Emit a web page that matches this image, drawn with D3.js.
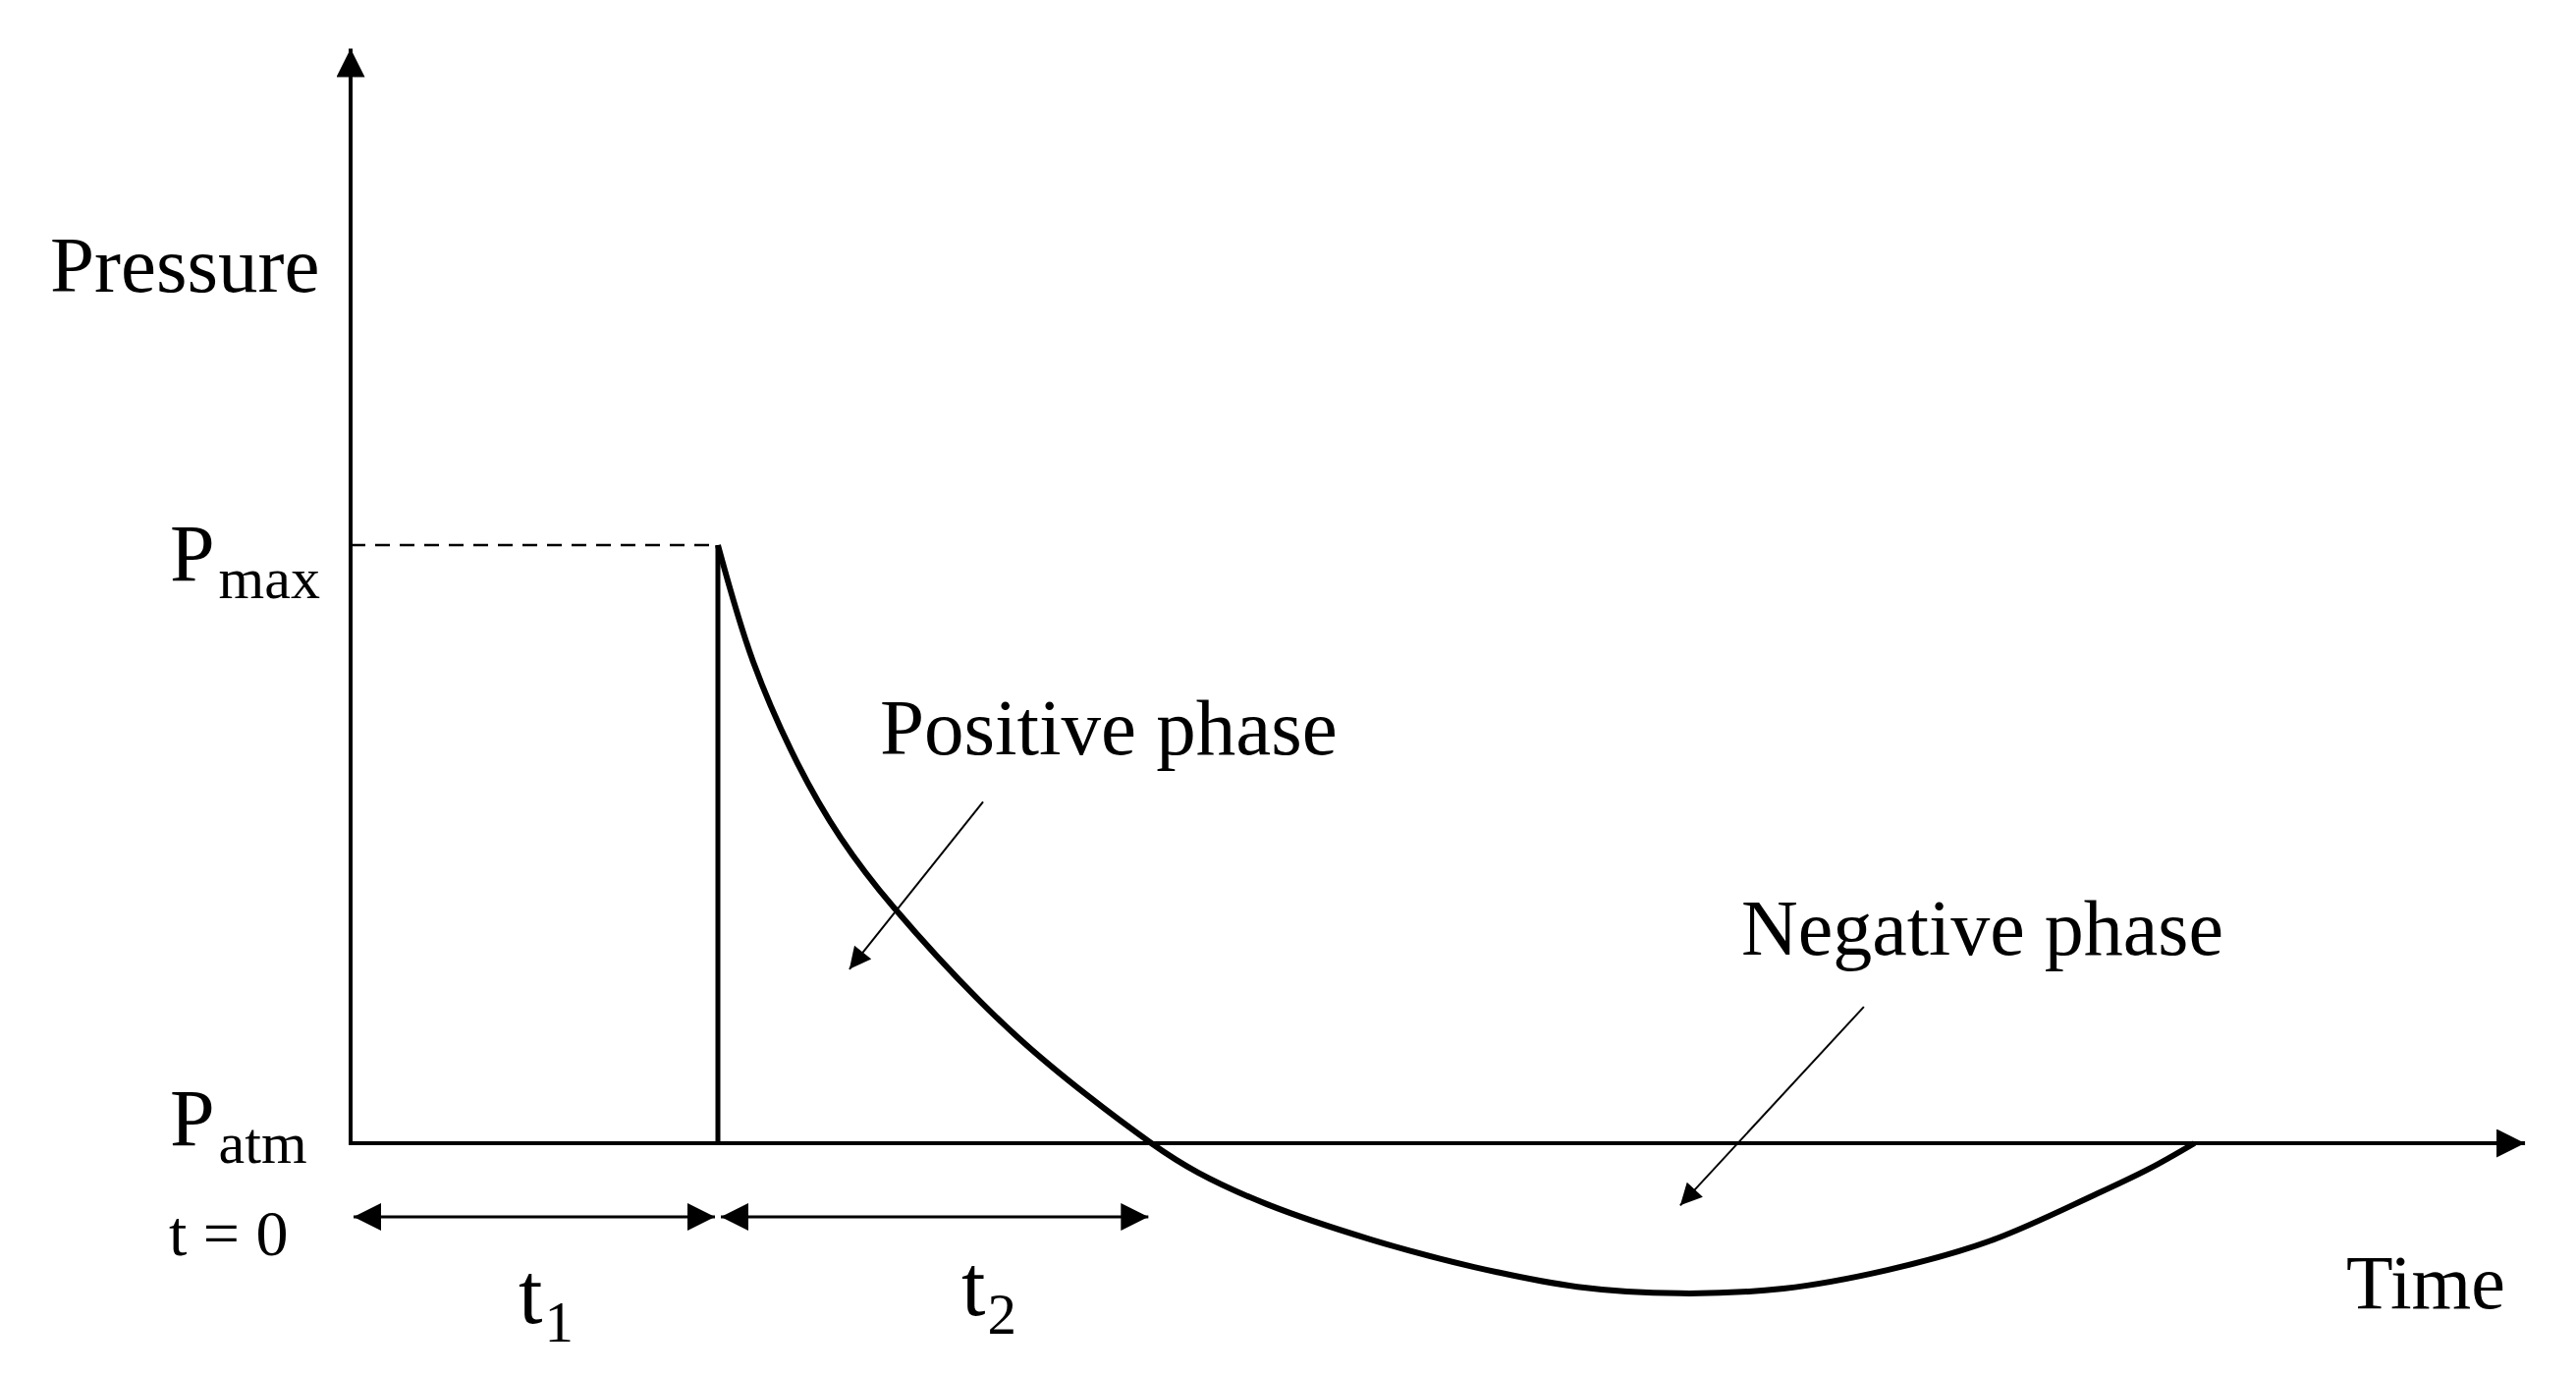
<!DOCTYPE html>
<html>
<head>
<meta charset="utf-8">
<script src="https://cdn.jsdelivr.net/npm/d3@7"></script>
<style>
  body { margin: 0; background: #fff; }
  text { font-family: "Liberation Serif", "Times New Roman", serif; fill: #000; }
</style>
</head>
<body>
<script>
// blast wave pressure-time profile
// time unit: t1 = 1, pressure unit: Pmax = 1, Patm = 0
const curveT = [1.0, 1.096, 1.217, 1.334, 1.479, 1.813, 2.18, 2.307, 2.495, 2.778, 3.059, 3.34, 3.62, 3.901, 4.184, 4.465, 4.746, 4.896, 5.02];
const curveP = [1.0, 0.805, 0.635, 0.511, 0.394, 0.179, 0.0, -0.049, -0.102, -0.161, -0.207, -0.24, -0.251, -0.243, -0.212, -0.163, -0.087, -0.043, 0.0];

const levelValues = [1, 0];
const levelNames = ["P", "P"];
const levelSubs = ["max", "atm"];

const spanStarts = [0, 1];
const spanEnds = [1, 2.18];
const spanNames = ["t", "t"];
const spanSubs = ["1", "2"];

const timeMax = 5.92;
const pressureMax = 1.83;

const width = 2623;
const height = 1400;

const x = d3.scaleLinear().domain([0, 1]).range([357, 731]);
const y = d3.scaleLinear().domain([0, 1]).range([1164, 555]);

const svg = d3
  .select("body")
  .append("svg")
  .attr("width", width)
  .attr("height", height);

svg.append("rect").attr("width", width).attr("height", height).attr("fill", "#fff");

const defs = svg.append("defs");
function marker(id, w, h) {
  defs
    .append("marker")
    .attr("id", id)
    .attr("viewBox", "0 0 10 10")
    .attr("refX", 10)
    .attr("refY", 5)
    .attr("markerWidth", w)
    .attr("markerHeight", h)
    .attr("markerUnits", "userSpaceOnUse")
    .attr("orient", "auto-start-reverse")
    .append("path")
    .attr("d", "M0,0 L10,5 L0,10 z")
    .attr("fill", "#000");
}
marker("axisHead", 29, 29);
marker("spanHead", 29, 28);
marker("noteHead", 32, 22);

// axes
svg
  .append("line")
  .attr("x1", x(0))
  .attr("y1", y(0))
  .attr("x2", x(0))
  .attr("y2", y(pressureMax))
  .attr("stroke", "#000")
  .attr("stroke-width", 4)
  .attr("marker-end", "url(#axisHead)");

svg
  .append("line")
  .attr("x1", x(0) - 2)
  .attr("y1", y(0))
  .attr("x2", x(timeMax))
  .attr("y2", y(0))
  .attr("stroke", "#000")
  .attr("stroke-width", 4)
  .attr("marker-end", "url(#axisHead)");

// Pmax dashed guide
svg
  .append("line")
  .attr("x1", x(0))
  .attr("y1", y(levelValues[0]))
  .attr("x2", x(curveT[0]))
  .attr("y2", y(levelValues[0]))
  .attr("stroke", "#000")
  .attr("stroke-width", 2.5)
  .attr("stroke-dasharray", "15,10");

// shock front
svg
  .append("line")
  .attr("x1", x(curveT[0]))
  .attr("y1", y(0))
  .attr("x2", x(curveT[0]))
  .attr("y2", y(curveP[0]))
  .attr("stroke", "#000")
  .attr("stroke-width", 5);

// decay curve
const line = d3
  .line()
  .x((d) => x(d[0]))
  .y((d) => y(d[1]))
  .curve(d3.curveCatmullRom.alpha(0.5));

svg
  .append("path")
  .datum(curveT.map((t, i) => [t, curveP[i]]))
  .attr("d", line)
  .attr("fill", "none")
  .attr("stroke", "#000")
  .attr("stroke-width", 6)
  .attr("stroke-linejoin", "round");

// t1 / t2 spans
const spanY = 1239;
spanStarts.forEach((s, i) => {
  svg
    .append("line")
    .attr("x1", x(s) + 3)
    .attr("y1", spanY)
    .attr("x2", x(spanEnds[i]) - 3)
    .attr("y2", spanY)
    .attr("stroke", "#000")
    .attr("stroke-width", 3)
    .attr("marker-start", "url(#spanHead)")
    .attr("marker-end", "url(#spanHead)");
});

// level labels
levelValues.forEach((v, i) => {
  const t = svg
    .append("text")
    .attr("x", x(0) - 184)
    .attr("y", y(v) + (i === 0 ? 36 : 2))
    .attr("font-size", 82);
  t.append("tspan").text(levelNames[i]);
  t.append("tspan")
    .attr("dx", 4)
    .attr("dy", 18)
    .attr("font-size", 60)
    .text(levelSubs[i]);
});

// span labels
const spanLabelX = [528, 979];
const spanLabelY = [1347, 1339];
spanNames.forEach((n, i) => {
  const t = svg
    .append("text")
    .attr("x", spanLabelX[i])
    .attr("y", spanLabelY[i])
    .attr("font-size", 88);
  t.append("tspan").text(n);
  t.append("tspan")
    .attr("dx", 2)
    .attr("dy", 19)
    .attr("font-size", 59)
    .text(spanSubs[i]);
});

svg.append("text").attr("x", 51).attr("y", 297).attr("font-size", 81).text("Pressure");
svg.append("text").attr("x", 172).attr("y", 1278).attr("font-size", 66).text("t = 0");
svg.append("text").attr("x", 2389).attr("y", 1332).attr("font-size", 78).text("Time");
svg.append("text").attr("x", 896).attr("y", 768).attr("font-size", 81).text("Positive phase");
svg.append("text").attr("x", 1773).attr("y", 972).attr("font-size", 80).text("Negative phase");

// pointer arrows
const notes = [
  [[1.722, 0.571], [1.358, 0.291]],
  [[4.12, 0.228], [3.62, -0.104]],
];
notes.forEach((n) => {
  svg
    .append("line")
    .attr("x1", x(n[0][0]))
    .attr("y1", y(n[0][1]))
    .attr("x2", x(n[1][0]))
    .attr("y2", y(n[1][1]))
    .attr("stroke", "#000")
    .attr("stroke-width", 2)
    .attr("marker-end", "url(#noteHead)");
});
</script>
</body>
</html>
